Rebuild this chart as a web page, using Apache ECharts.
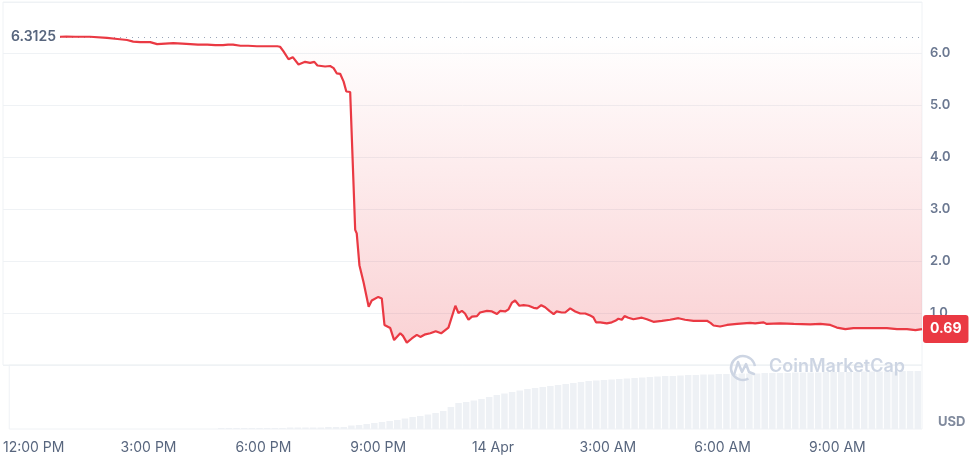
<!DOCTYPE html>
<html>
<head>
<meta charset="utf-8">
<script src="https://cdn.jsdelivr.net/npm/echarts@6/dist/echarts.min.js"></script>
<style>
html,body{margin:0;padding:0;background:#fff;}
#chart{width:975px;height:457px;}
</style>
</head>
<body>
<div id="chart"></div>
<script>
// Hours after 13 Apr 12:00 PM
const priceHours = [0.84,1.00,1.23,1.62,2.06,2.33,2.58,2.74,2.92,3.18,3.36,3.57,3.78,4.01,4.22,4.42,4.66,4.87,5.07,5.20,5.33,5.52,5.72,5.95,6.24,6.48,
6.55,6.64,6.77,6.88,7.03,7.20,7.33,7.44,7.52,7.72,7.85,7.94,8.02,8.11,8.20,8.27,8.37,8.42,
8.50,8.54,8.61,8.72,8.85,8.93,9.10,9.19,9.26,9.41,9.51,9.67,9.74,9.84,9.97,10.10,10.19,10.32,10.45,10.59,10.73,10.92,
11.10,11.18,11.27,11.35,11.44,11.53,11.66,11.74,11.92,12.05,12.18,12.26,12.39,12.48,12.57,12.65,12.76,12.87,13.00,13.13,13.22,13.33,13.43,13.54,13.65,13.73,13.86,13.95,
14.08,14.21,14.34,14.47,14.60,14.68,14.75,14.86,15.03,15.16,15.25,15.33,15.42,15.49,15.59,15.72,15.94,16.07,16.24,16.46,16.67,16.89,17.06,17.28,17.63,17.72,17.80,17.97,
18.15,18.41,18.58,18.75,18.88,19.10,19.18,19.53,19.88,20.31,20.57,20.83,21.00,21.22,21.43,21.69,21.95,22.30,22.56,22.82,23.04,23.21];
const prices = [6.3125,6.314,6.313,6.3125,6.29,6.27,6.25,6.22,6.21,6.21,6.17,6.18,6.19,6.18,6.17,6.16,6.16,6.15,6.15,6.16,6.16,6.14,6.14,6.13,6.13,6.13,
6.12,6.03,5.88,5.92,5.78,5.83,5.81,5.83,5.76,5.74,5.75,5.71,5.61,5.60,5.45,5.26,5.25,5.23,
2.60,2.53,1.92,1.58,1.12,1.24,1.31,1.28,0.77,0.71,0.48,0.61,0.56,0.43,0.51,0.58,0.54,0.59,0.61,0.65,0.61,0.72,
1.14,1.00,1.04,0.99,0.87,0.93,0.94,1.01,1.04,1.03,0.98,1.04,1.03,1.07,1.20,1.24,1.14,1.15,1.14,1.10,1.09,1.15,1.11,1.04,0.98,1.03,1.01,1.01,
1.09,1.03,0.99,0.99,0.95,0.92,0.82,0.82,0.80,0.82,0.85,0.89,0.87,0.94,0.91,0.88,0.91,0.88,0.83,0.85,0.87,0.90,0.87,0.85,0.85,0.81,0.76,0.74,
0.77,0.79,0.80,0.81,0.80,0.82,0.79,0.80,0.79,0.78,0.79,0.77,0.72,0.69,0.71,0.71,0.71,0.71,0.69,0.69,0.67,0.69];

const volumeHours = [4.9,5.1,5.3,5.5,5.7,5.9,6.1,6.3,6.5,6.7,6.9,7.1,7.3,7.5,7.7,7.9,8.1,8.3,8.5,8.7,8.9,9.1,9.3,9.5,9.7,9.9,
10.1,10.3,10.5,10.7,10.9,11.1,11.3,11.5,11.7,11.9,12.1,12.3,12.5,12.7,12.9,13.1,13.3,13.5,13.7,13.9,14.1,14.3,14.5,14.7,14.9,
15.1,15.3,15.5,15.7,15.9,16.1,16.3,16.5,16.7,16.9,17.1,17.3,17.5,17.7,17.9,18.1,18.3,18.5,18.7,18.9,19.1,19.3,19.5,19.7,19.9,
20.1,20.3,20.5,20.7,20.9,21.1,21.3,21.5,21.7,21.9,22.1,22.3,22.5,22.7,22.9,23.1];
const volumes = [1,1,1,1,1,1,1,1,1,1.5,1.5,1.5,1.5,1.5,2,2,2,3.5,4,5,6,7,8,9,10.5,12,
13,14.5,16,18,22,26,27,28.5,30,32,34,35.5,37,38.5,40,41,42,43,44,45,46,47,48,48.5,49,
49.5,50,50.5,51,51.5,52,52.5,53,53,53.5,54,54,54.5,54.5,55,55,55,55.5,55.5,55.5,56,56,56,56,56.5,
56.5,56.5,56.5,57,57,57,57,57,57.5,57.5,57.5,57.5,57.5,58,58,58];

const xTickHours = [0,3,6,9,12,15,18,21];
const xTickLabels = ['12:00 PM','3:00 PM','6:00 PM','9:00 PM','14 Apr','3:00 AM','6:00 AM','9:00 AM'];
const yTickValues = [1,2,3,4,5,6];

const X_MIN = -0.64, X_MAX = 23.21;
const FONT = 'Inter, "Noto Sans", sans-serif';
const RED = '#ea3943';
const basePrice = prices[0];
const lastPrice = prices[prices.length - 1];

const chart = echarts.init(document.getElementById('chart'), null, {renderer: 'canvas'});

const option = {
  animation: false,
  backgroundColor: '#fff',
  grid: [
    {left: 3, right: 53, top: 2, height: 363, show: true, borderColor: '#eff2f5', borderWidth: 1},
    {left: 3, right: 53, top: 365, height: 64, show: true, borderColor: '#eff2f5', borderWidth: 1}
  ],
  xAxis: [
    {type: 'value', gridIndex: 0, min: X_MIN, max: X_MAX, show: false, splitLine: {show: false}},
    {type: 'value', gridIndex: 1, min: X_MIN, max: X_MAX,
      axisLine: {show: false}, axisTick: {show: false}, splitLine: {show: false},
      axisLabel: {
        customValues: xTickHours,
        margin: 12,
        color: '#58667e', fontSize: 14, fontFamily: FONT,
        formatter: function (v) {
          const i = xTickHours.indexOf(v);
          return i >= 0 ? xTickLabels[i] : '';
        }
      }
    }
  ],
  yAxis: [
    {type: 'value', gridIndex: 0, position: 'right', min: 0, max: 6.981, interval: 1,
      axisLine: {show: false}, axisTick: {show: false},
      splitLine: {lineStyle: {color: '#eff2f5', width: 1}},
      axisLabel: {showMinLabel: false, showMaxLabel: false, margin: 8, align: 'left',
        color: '#6b7891', fontSize: 13, fontWeight: 600, fontFamily: FONT,
        formatter: function (v) { return yTickValues.indexOf(v) >= 0 ? v.toFixed(1) : ''; }}
    },
    {type: 'value', gridIndex: 1, min: 0, max: 64, show: false, splitLine: {show: false}}
  ],
  series: [
    {
      type: 'line', xAxisIndex: 0, yAxisIndex: 0, z: 5,
      data: priceHours.map((h, i) => [h, prices[i]]),
      showSymbol: false, symbol: 'none',
      lineStyle: {width: 2.2, color: RED},
      itemStyle: {color: RED},
      areaStyle: {
        origin: basePrice,
        color: new echarts.graphic.LinearGradient(0, 0, 0, 1, [
          {offset: 0, color: 'rgba(234,57,67,0.0)'},
          {offset: 1, color: 'rgba(234,57,67,0.32)'}
        ])
      },
      markLine: {
        silent: true, symbol: ['none', 'none'], animation: false,
        data: [
          [
            {coord: [priceHours[0], basePrice],
              lineStyle: {color: '#9aa5b8', type: [1, 5], width: 1},
              label: {show: true, position: 'start', distance: 4, formatter: String(basePrice),
                color: '#58667e', fontSize: 14, fontWeight: 600, fontFamily: FONT}},
            {coord: [X_MAX, basePrice]}
          ],
          [
            {coord: [X_MIN, lastPrice], lineStyle: {color: 'rgba(0,0,0,0)', width: 0},
              label: {show: true, position: 'end', distance: 1, formatter: lastPrice.toFixed(2),
                color: '#fff', backgroundColor: RED, fontSize: 14, fontWeight: 700, fontFamily: FONT,
                padding: [7, 7, 7, 7], borderRadius: 3}},
            {coord: [X_MAX, lastPrice]}
          ]
        ]
      }
    },
    {
      type: 'bar', xAxisIndex: 1, yAxisIndex: 1, z: 2,
      data: volumeHours.map((h, i) => [h, volumes[i]]),
      barWidth: 6.5,
      itemStyle: {color: '#eef1f5'},
      silent: true
    }
  ],
  graphic: [
    {type: 'arc', z: 100, shape: {cx: 743, cy: 368, r: 12, startAngle: Math.PI * 0.35, endAngle: Math.PI * 1.95, clockwise: true},
      style: {stroke: '#cdd5e3', lineWidth: 2.5, fill: 'none'}},
    {type: 'polyline', z: 100, shape: {points: [[734, 375], [738, 362], [742, 372], [746, 364], [749, 372], [754, 374]]},
      style: {stroke: '#cdd5e3', lineWidth: 2.5, fill: 'none', lineJoin: 'round', lineCap: 'round'}},
    {type: 'text', z: 100, left: 769, top: 358,
      style: {text: 'CoinMarketCap', fill: '#cdd5e3', font: '600 18px Inter, sans-serif'}},
    {type: 'text', z: 100, left: 938, top: 416,
      style: {text: 'USD', fill: '#808a9d', font: '700 13px Inter, sans-serif'}}
  ]
};
chart.setOption(option);
</script>
</body>
</html>
